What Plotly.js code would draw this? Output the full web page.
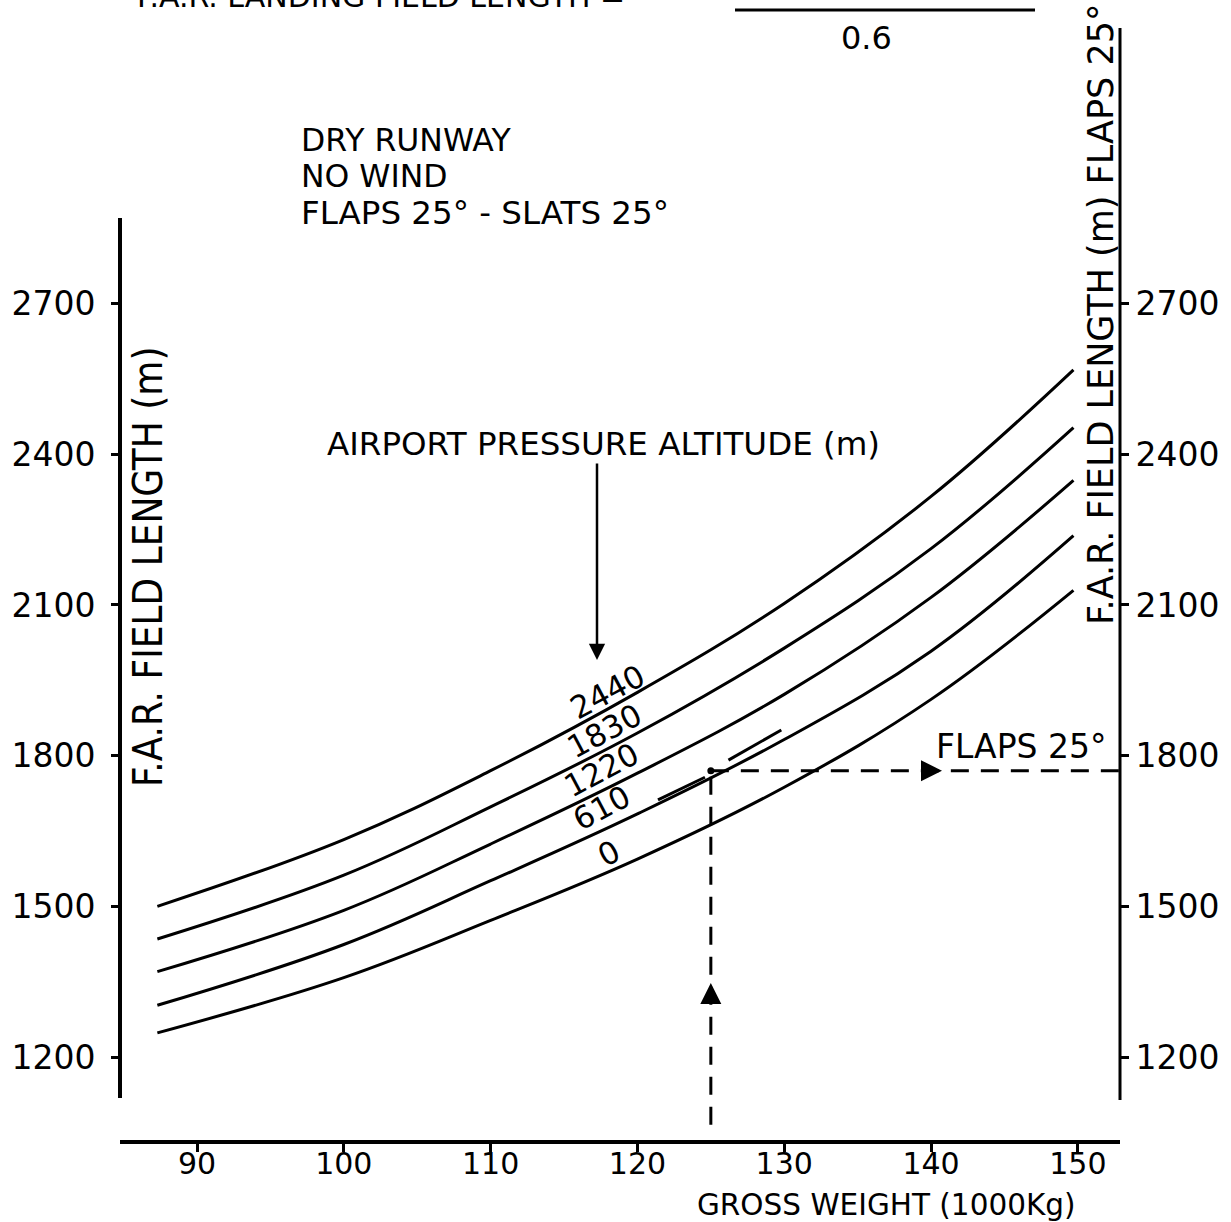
<!DOCTYPE html>
<html>
<head>
<meta charset="utf-8">
<script src="https://cdn.plot.ly/plotly-3.0.1.min.js"></script>
<style>html,body{margin:0;padding:0;background:#fff;}</style>
</head>
<body>
<div id="chart" style="width:1231px;height:1222px;"></div>
<script>
// ---- Data ----
const grossWeight = [87.3, 100, 110, 120, 130, 140, 149.7];           // 1000 kg
const alt2440 = [1500, 1633, 1770, 1926, 2103, 2316, 2568];          // field length (m)
const alt1830 = [1435, 1562, 1698, 1845, 2014, 2212, 2453];
const alt1220 = [1370, 1492, 1624, 1765, 1922, 2115, 2348];
const alt610  = [1303, 1424, 1551, 1684, 1832, 2008, 2238];
const alt0    = [1248, 1358, 1472, 1594, 1737, 1912, 2129];
const altitudeLabels = ['2440', '1830', '1220', '610', '0'];

const xTicks = [90, 100, 110, 120, 130, 140, 150];
const yTicks = [1200, 1500, 1800, 2100, 2400, 2700];

// example: 125 000 kg -> 1770 m
const exampleWeight = 125;
const exampleLength = 1770;
const exampleStart = 1065;
const guideWeight = [121.4, 124.6, null, 126.2, 129.8];
const guideLength = [1712, 1757, null, 1791, 1851];

// ---- Layout helpers (pixel -> paper) ----
const L = 120, R = 111, T = 30, B = 82, W = 1231, H = 1222;
const PW = W - L - R, PH = H - T - B;
const px = x => (x - L) / PW;
const py = y => (H - B - y) / PH;
const xRange = [84.755, 152.87];
const yRange = [1034.8, 3244.6];
const pw = x => xRange[0] + (x - L) / PW * (xRange[1] - xRange[0]);
const pv = y => yRange[0] + (H - B - y) / PH * (yRange[1] - yRange[0]);

const FONT = 'DejaVu Sans, Arial, sans-serif';
const COND = 'DejaVu Sans Condensed, Liberation Sans Narrow, Arial Narrow, sans-serif';

const curves = [alt2440, alt1830, alt1220, alt610, alt0];
const traces = curves.map((ys, i) => ({
  x: grossWeight, y: ys, type: 'scatter', mode: 'lines', name: altitudeLabels[i],
  line: {color: '#000', width: 3, shape: 'spline', smoothing: 1.1},
  hoverinfo: 'x+y+name'
}));
traces.push({x: guideWeight, y: guideLength, type: 'scatter', mode: 'lines',
  line: {color: '#000', width: 3}, connectgaps: false, hoverinfo: 'skip'});
traces.push({x: [exampleWeight, exampleWeight], y: [exampleStart, exampleLength], type: 'scatter', mode: 'lines',
  line: {color: '#000', width: 3, dash: '18px,12px'}, hoverinfo: 'skip'});
traces.push({x: [exampleWeight, xRange[1]], y: [exampleLength, exampleLength], type: 'scatter', mode: 'lines',
  line: {color: '#000', width: 3, dash: '18px,12px'}, hoverinfo: 'skip'});
traces.push({x: [exampleWeight], y: [exampleLength], type: 'scatter', mode: 'markers',
  marker: {color: '#000', size: 7}, hoverinfo: 'skip'});
// dummy trace for right axis
traces.push({x: [exampleWeight], y: [exampleLength], yaxis: 'y2', type: 'scatter', mode: 'markers',
  marker: {opacity: 0}, hoverinfo: 'skip'});

const labelPos = [[607, 692], [604, 731], [601, 770], [601, 808], [609, 853]];
const annotations = [];
altitudeLabels.forEach((t, i) => {
  annotations.push({xref: 'paper', yref: 'paper', x: px(labelPos[i][0]), y: py(labelPos[i][1]),
    xanchor: 'center', yanchor: 'middle',
    text: t, showarrow: false, textangle: -28, font: {family: FONT, size: 31, color: '#000'}});
});
const txt = (text, x, y, size, xanchor, opts) => Object.assign({
  xref: 'paper', yref: 'paper', x: px(x), y: py(y), text: text, showarrow: false,
  xanchor: xanchor || 'left', yanchor: 'middle', font: {family: FONT, size: size, color: '#000'}
}, opts || {});
annotations.push(txt('F.A.R. LANDING FIELD LENGTH =', 135, -4, 30));
annotations.push(txt('0.6', 866, 38, 32, 'center'));
annotations.push(txt('DRY RUNWAY', 299, 140, 31.5));
annotations.push(txt('NO WIND', 299, 176, 31.5));
annotations.push(txt('FLAPS 25° - SLATS 25°', 299, 213, 32.5));
annotations.push(txt('AIRPORT PRESSURE ALTITUDE (m)', 325, 444, 32.5));
annotations.push(txt('FLAPS 25°', 934, 746, 33));
annotations.push(txt('GROSS WEIGHT (1000Kg)', 886, 1205, 29.5, 'center'));
annotations.push(txt('F.A.R. FIELD LENGTH (m)', 148, 567, 40, 'center', {textangle: -90, font: {family: COND, size: 40, color: '#000'}}));
annotations.push(txt('F.A.R. FIELD LENGTH (m) FLAPS 25°', 1101, 315, 35, 'center', {textangle: -90}));
// arrows
annotations.push({xref: 'x', yref: 'y', x: pw(597), y: pv(660), ax: 0, ay: -198, text: '', showarrow: true,
  arrowhead: 2, arrowsize: 1.3, arrowwidth: 2.5, arrowcolor: '#000'});
annotations.push({xref: 'x', yref: 'y', x: exampleWeight, y: pv(983), ax: 0, ay: 22, text: '', showarrow: true,
  arrowhead: 2, arrowsize: 1.4, arrowwidth: 3, arrowcolor: '#000'});
annotations.push({xref: 'x', yref: 'y', x: pw(942), y: exampleLength, ax: -22, ay: 0, text: '', showarrow: true,
  arrowhead: 2, arrowsize: 1.4, arrowwidth: 3, arrowcolor: '#000'});

const shapes = [
  {type: 'line', xref: 'paper', yref: 'paper', x0: 0, x1: 0, y0: py(1098), y1: py(218), line: {color: '#000', width: 4}},
  {type: 'line', xref: 'paper', yref: 'paper', x0: 1, x1: 1, y0: py(1100), y1: py(28), line: {color: '#000', width: 3}},
  {type: 'line', xref: 'paper', yref: 'paper', x0: px(735), x1: px(1035), y0: py(10), y1: py(10), line: {color: '#000', width: 3}}
];

const yAxisBase = {
  range: yRange, tickvals: yTicks, ticktext: yTicks.map(String), showgrid: false, zeroline: false,
  showline: false, ticks: 'outside', ticklen: 8, tickwidth: 3, tickcolor: '#000',
  tickfont: {family: FONT, size: 33, color: '#000'}, fixedrange: true
};

const layout = {
  width: W, height: H, margin: {l: L, r: R, t: T, b: B, pad: 0},
  paper_bgcolor: '#fff', plot_bgcolor: '#fff', showlegend: false,
  xaxis: {range: xRange, tickvals: xTicks, ticktext: xTicks.map(String), showgrid: false, zeroline: false,
    showline: true, linewidth: 4, linecolor: '#000', ticks: 'outside', ticklen: 8, tickwidth: 3, tickcolor: '#000',
    tickfont: {family: FONT, size: 30, color: '#000'}, ticklabelstandoff: -14, fixedrange: true},
  yaxis: Object.assign({}, yAxisBase, {side: 'left', ticklabelstandoff: 9}),
  yaxis2: Object.assign({}, yAxisBase, {side: 'right', overlaying: 'y', ticklabelstandoff: 0}),
  annotations: annotations, shapes: shapes
};

Plotly.newPlot('chart', traces, layout, {displayModeBar: false, staticPlot: true});
</script>
</body>
</html>
